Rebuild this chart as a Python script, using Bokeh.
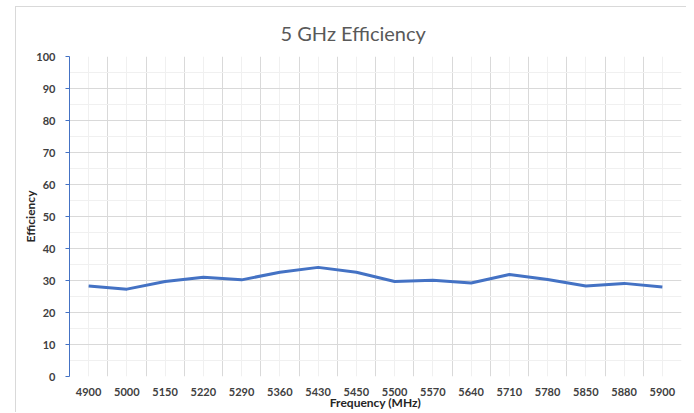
from bokeh.plotting import figure
from bokeh.models import FixedTicker, SingleIntervalTicker, Range1d, ColumnDataSource
from bokeh.embed import file_html
from bokeh.resources import INLINE

freq_labels = ["4900", "5000", "5150", "5220", "5290", "5360", "5430", "5450",
               "5500", "5570", "5640", "5710", "5780", "5850", "5880", "5900"]
efficiency = [28.3, 27.3, 29.7, 31.0, 30.2, 32.6, 34.1, 32.6,
              29.7, 30.1, 29.2, 31.9, 30.3, 28.3, 29.1, 28.0]

n = len(freq_labels)
idx = list(range(n))
src = ColumnDataSource(dict(x=idx, y=efficiency))

FONT = "Lato"
p = figure(frame_width=612, frame_height=320, output_backend="svg", toolbar_location=None,
           x_range=Range1d(-0.5, n - 0.5), y_range=Range1d(0, 100),
           min_border_left=53, min_border_right=5, min_border_top=49, min_border_bottom=29)
p.outline_line_color = None
p.margin = (6, 0, 0, 15)
p.styles = {"border-left": "1px solid #D9D9D9", "border-top": "1px solid #D9D9D9"}

p.title.text = "5 GHz Efficiency"
p.title.align = "left"
p.title.offset = 211
p.title.standoff = 23
p.title.text_font = FONT
p.title.text_font_style = "normal"
p.title.text_font_size = "20px"
p.title.text_color = "#595959"

p.line("x", "y", source=src, line_width=3, line_color="#4472C4", line_join="round")

# x axis
p.xaxis.ticker = FixedTicker(ticks=idx)
p.xaxis.major_label_overrides = {i: l for i, l in zip(idx, freq_labels)}
p.xaxis.axis_line_color = None
p.xaxis.major_tick_line_color = None
p.xaxis.minor_tick_line_color = None
p.xaxis.major_tick_out = 0
p.xaxis.major_tick_in = 0
p.xaxis.axis_label = "Frequency (MHz)"
p.xaxis.major_label_standoff = 11
p.xaxis.axis_label_standoff = -4

# y axis
p.yaxis.ticker = SingleIntervalTicker(interval=10, num_minor_ticks=2)
p.yaxis.axis_line_color = "#4472C4"
p.yaxis.major_tick_line_color = "#4472C4"
p.yaxis.major_tick_out = 4
p.yaxis.major_tick_in = 0
p.yaxis.minor_tick_line_color = None
p.yaxis.axis_label = "Efficiency"
p.yaxis.major_label_standoff = 10
p.yaxis.axis_label_standoff = -5

for ax in (p.xaxis, p.yaxis):
    ax.major_label_text_font = FONT
    ax.major_label_text_font_style = "bold"
    ax.major_label_text_font_size = "11px"
    ax.major_label_text_color = "#404040"
    ax.axis_label_text_font = FONT
    ax.axis_label_text_font_style = "bold"
    ax.axis_label_text_font_size = "12px"
    ax.axis_label_text_color = "#262626"

# grids
p.xgrid.ticker = FixedTicker(ticks=[i - 0.5 for i in range(n + 1)],
                             minor_ticks=idx)
p.xgrid.grid_line_color = "#D9D9D9"
p.xgrid.minor_grid_line_color = "#F0F0F0"
p.ygrid.ticker = SingleIntervalTicker(interval=10, num_minor_ticks=2)
p.ygrid.grid_line_color = "#D9D9D9"
p.ygrid.minor_grid_line_color = "#F0F0F0"

open("out.html", "w").write(file_html(p, INLINE))
